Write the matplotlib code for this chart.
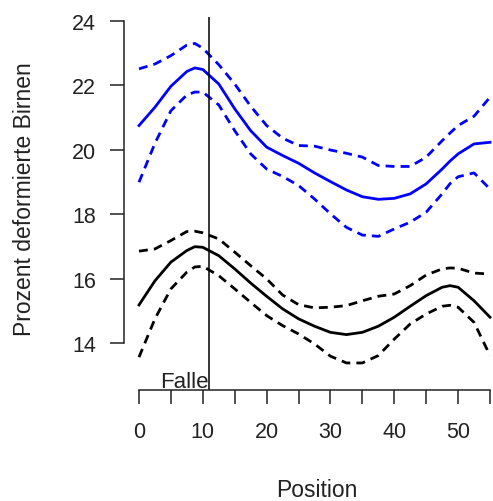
import matplotlib
matplotlib.use('Agg')
import matplotlib.pyplot as plt
import numpy as np

plt.rcParams['font.family'] = ['Liberation Sans', 'DejaVu Sans']

# positions along the row and fitted percentages with confidence band
position = [0, 2.5, 5, 7.5, 8.75, 10, 12.5, 15, 17.5, 20, 22.5, 25, 27.5,
            30, 32.5, 35, 37.5, 40, 42.5, 45, 47.5, 48.75, 50, 52.5, 55]

blue_fit = [20.75, 21.32, 21.97, 22.43, 22.54, 22.49, 22.04, 21.27, 20.59, 20.08, 19.82, 19.58, 19.28,
            19.01, 18.75, 18.54, 18.46, 18.49, 18.63, 18.94, 19.40, 19.65, 19.87, 20.18, 20.23]
blue_hi = [22.51, 22.66, 22.92, 23.25, 23.30, 23.15, 22.64, 22.04, 21.35, 20.75, 20.36, 20.13, 20.11,
           19.99, 19.89, 19.77, 19.51, 19.48, 19.48, 19.77, 20.28, 20.52, 20.75, 21.04, 21.63]
blue_lo = [18.99, 20.20, 21.21, 21.70, 21.79, 21.79, 21.39, 20.59, 19.87, 19.40, 19.17, 18.89, 18.47,
           18.01, 17.59, 17.35, 17.31, 17.54, 17.75, 18.06, 18.63, 18.95, 19.16, 19.28, 18.78]

black_fit = [15.18, 15.93, 16.51, 16.87, 16.99, 16.97, 16.71, 16.30, 15.86, 15.45, 15.06, 14.75, 14.52,
             14.33, 14.26, 14.33, 14.52, 14.80, 15.14, 15.47, 15.73, 15.78, 15.73, 15.31, 14.80]
black_hi = [16.85, 16.92, 17.18, 17.46, 17.47, 17.42, 17.23, 16.82, 16.40, 15.99, 15.49, 15.19, 15.09,
            15.11, 15.16, 15.31, 15.45, 15.52, 15.78, 16.11, 16.30, 16.33, 16.32, 16.17, 16.14]
black_lo = [13.56, 14.75, 15.68, 16.20, 16.36, 16.38, 16.09, 15.68, 15.26, 14.85, 14.54, 14.28, 13.97,
            13.59, 13.38, 13.38, 13.61, 14.12, 14.59, 14.90, 15.14, 15.17, 15.11, 14.64, 13.61]

trap_pos = 11
yticks = [14, 16, 18, 20, 22, 24]
xticks = [0, 10, 20, 30, 40, 50]
xminor = [5, 15, 25, 35, 45, 55]

fig = plt.figure(figsize=(4.93, 5.02), dpi=100)
ax = fig.add_axes([124 / 493, 1 - 391 / 502, 369 / 493, 373 / 502])
ax.set_xlim(-2.35, 55.47)
ax.set_ylim(12.54, 24.12)

dash = (0, (3.2, 2.2))
ax.plot(position, blue_fit, color='#0000ff', lw=2)
ax.plot(position, blue_hi, color='#0000ff', lw=2, ls=dash)
ax.plot(position, blue_lo, color='#0000ff', lw=2, ls=dash)
ax.plot(position, black_fit, color='black', lw=2)
ax.plot(position, black_hi, color='black', lw=2, ls=dash)
ax.plot(position, black_lo, color='black', lw=2, ls=dash)

ax.axvline(trap_pos, color='black', lw=1.1)
ax.text(trap_pos - 0.15, 12.63, 'Falle', ha='right', va='baseline', fontsize=16, color='#222222')

for s in ['top', 'right']:
    ax.spines[s].set_visible(False)
ax.spines['left'].set_bounds(14, 24)
ax.spines['bottom'].set_bounds(0, 55)
for s in ['left', 'bottom']:
    ax.spines[s].set_linewidth(1.1)
    ax.spines[s].set_color('#222222')

ax.set_yticks(yticks)
ax.set_xticks(xticks)
ax.set_xticks(xminor, minor=True)
ax.tick_params(axis='both', which='both', direction='out', length=10, width=1.1,
               color='#222222', labelsize=15.5, labelcolor='#222222')
ax.tick_params(axis='y', pad=10)
ax.tick_params(axis='x', pad=12)

fig.text(316.5 / 493, 1 - 497 / 502, 'Position', ha='center', va='baseline',
         fontsize=16.5, color='#222222')
fig.text(25 / 493, 1 - 199 / 502, 'Prozent deformierte Birnen', ha='center', va='center',
         rotation=90, fontsize=16.5, color='#222222')

fig.savefig('out.png', dpi=100)
